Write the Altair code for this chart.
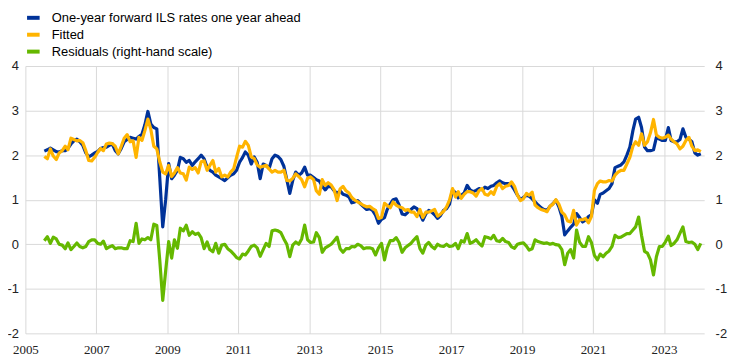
import altair as alt
import pandas as pd

# Monthly observations, July 2005 - January 2024
actual = [
    2.09, 2.12, 2.16, 2.12, 2.08, 2.07,
    2.10, 2.10, 2.15, 2.25, 2.32, 2.36, 2.30, 2.22, 2.05, 1.96, 2.00, 2.05,
    2.08, 2.15, 2.17, 2.18, 2.22, 2.25, 2.10, 2.03, 2.15, 2.30, 2.35, 2.40,
    2.38, 2.36, 2.42, 2.47, 2.68, 2.98, 2.70, 2.62, 2.59, 1.50, 0.39, 1.00,
    1.81, 1.47, 1.55, 1.66, 1.95, 1.92, 1.84, 1.88, 1.77, 1.85, 1.92, 2.00,
    1.92, 1.73, 1.66, 1.62, 1.55, 1.51, 1.47, 1.43, 1.49, 1.55, 1.58, 1.66,
    1.84, 1.95, 2.07, 2.00, 1.80, 1.96, 1.84, 1.47, 1.80, 1.77, 1.70, 1.92,
    2.00, 1.97, 1.90, 1.75, 1.45, 1.14, 1.43, 1.62, 1.55, 1.60, 1.73, 1.55,
    1.55, 1.50, 1.45, 1.42, 1.30, 1.22, 1.30, 1.29, 1.20, 1.14, 1.20, 1.12,
    1.10, 1.06, 0.93, 0.95, 0.98, 0.90, 0.84, 0.78, 0.80, 0.76, 0.65, 0.47,
    0.56, 0.60, 0.78, 0.90, 1.00, 1.02, 0.88, 0.68, 0.66, 0.72, 0.78, 0.84,
    0.80, 0.68, 0.54, 0.68, 0.76, 0.72, 0.66, 0.58, 0.65, 0.76, 0.80, 0.90,
    1.21, 1.16, 1.04, 1.10, 1.15, 1.32, 1.22, 1.18, 1.21, 1.25, 1.22, 1.28,
    1.25, 1.30, 1.32, 1.38, 1.42, 1.38, 1.36, 1.36, 1.32, 1.22, 1.10, 1.00,
    1.05, 1.10, 1.08, 1.02, 0.95, 0.88, 0.82, 0.78, 0.76, 0.85, 0.91, 0.99,
    0.84, 0.62, 0.21, 0.30, 0.38, 0.45, 0.69, 0.60, 0.50, 0.54, 0.62, 0.66,
    1.00, 0.92, 1.12, 1.15, 1.20, 1.25, 1.36, 1.72, 1.75, 1.78, 1.85, 2.00,
    2.18, 2.55, 2.81, 2.85, 2.62, 2.18, 2.10, 2.10, 2.12, 2.40, 2.36, 2.33,
    2.33, 2.62, 2.33, 2.30, 2.30, 2.35, 2.59, 2.40, 2.36, 2.30, 2.05, 2.00,
    2.03,
]

fitted = [
    1.97, 1.92, 2.14, 1.98, 1.90, 2.05,
    2.10, 2.20, 2.12, 2.38, 2.35, 2.32, 2.33, 2.28, 2.10, 1.88, 1.87, 1.95,
    2.06, 2.15, 2.10, 2.25, 2.27, 2.26, 2.20, 2.03, 2.20, 2.38, 2.46, 2.30,
    2.32, 1.95, 2.40, 2.33, 2.55, 2.81, 2.58, 2.20, 2.14, 1.85, 1.62, 1.58,
    1.77, 1.52, 1.60, 1.72, 1.60, 1.58, 1.44, 1.73, 1.68, 1.72, 1.60, 1.85,
    1.87, 1.66, 1.77, 1.88, 1.62, 1.70, 1.51, 1.55, 1.51, 1.62, 1.69, 1.95,
    2.20, 2.18, 2.31, 2.22, 1.96, 1.92, 1.78, 1.73, 1.75, 1.77, 1.69, 1.62,
    1.66, 1.62, 1.62, 1.66, 1.43, 1.42, 1.48, 1.58, 1.52, 1.45, 1.29, 1.48,
    1.51, 1.45, 1.20, 1.12, 1.45, 1.32, 1.38, 1.33, 1.22, 0.98, 1.24, 1.30,
    1.20, 1.15, 1.05, 0.99, 0.95, 0.91, 0.87, 0.84, 0.85, 0.80, 0.76, 0.58,
    0.60, 0.92, 0.87, 0.82, 0.95, 0.88, 0.84, 0.82, 0.76, 0.78, 0.72, 0.72,
    0.62, 0.78, 0.60, 0.72, 0.72, 0.75, 0.78, 0.63, 0.68, 0.74, 0.84, 0.99,
    1.25, 1.06, 1.18, 1.03, 1.12, 1.18, 1.18, 1.15, 1.08, 1.20, 1.25, 1.12,
    1.10, 1.18, 1.12, 1.30, 1.36, 1.25, 1.30, 1.32, 1.40, 1.30, 1.10, 0.98,
    1.02, 1.14, 1.10, 1.17, 0.88, 0.82, 0.78, 0.76, 0.73, 0.85, 0.90, 1.00,
    0.90, 0.72, 0.66, 0.52, 0.50, 0.76, 0.43, 0.55, 0.55, 0.58, 0.48, 0.62,
    1.21, 1.36, 1.42, 1.40, 1.40, 1.43, 1.42, 1.55, 1.62, 1.66, 1.66, 1.80,
    1.95, 2.20, 2.30, 2.22, 2.48, 2.22, 2.30, 2.50, 2.80, 2.45, 2.40, 2.38,
    2.40, 2.45, 2.36, 2.30, 2.25, 2.14, 2.20, 2.33, 2.40, 2.20, 2.10, 2.12,
    2.08,
]

residuals = [
    0.08, 0.17, 0.02, 0.16, 0.12, 0.00,
    -0.02, -0.10, 0.03, -0.12, -0.05, 0.03, -0.05, -0.08, -0.05, 0.06, 0.10, 0.10,
    0.02, 0.00, 0.07, -0.10, -0.06, -0.03, -0.10, -0.08, -0.08, -0.10, -0.10, 0.08,
    0.06, 0.47, 0.02, 0.12, 0.10, 0.15, 0.10, 0.45, 0.42, -0.35, -1.26, -0.60,
    0.06, -0.31, 0.10, -0.09, 0.36, 0.30, 0.43, 0.20, 0.28, 0.22, 0.25, 0.15,
    -0.10, 0.05, -0.12, -0.17, 0.02, -0.20, -0.02, 0.00, -0.10, -0.15, -0.22, -0.30,
    -0.33, -0.22, -0.24, -0.15, -0.05, -0.02, -0.08, -0.27, -0.12, 0.02, -0.05, 0.30,
    0.32, 0.30, 0.26, 0.12, 0.00, -0.28, -0.02, 0.05, 0.00, 0.12, 0.43, 0.10,
    0.04, 0.05, 0.26, 0.15, -0.18, -0.08, -0.04, 0.00, 0.08, 0.16, -0.10, -0.18,
    -0.10, -0.10, -0.05, -0.06, 0.00, -0.03, -0.10, -0.08, -0.08, -0.10, -0.24, -0.08,
    0.02, -0.35, -0.08, 0.08, 0.08, 0.15, 0.04, -0.18, -0.08, -0.03, 0.02, 0.10,
    0.17, -0.10, -0.20, -0.02, 0.04, -0.05, -0.10, 0.00, -0.04, -0.05, 0.00, -0.05,
    -0.04, 0.02, -0.10, 0.08, 0.05, 0.24, 0.02, 0.05, 0.10, 0.02, -0.04, 0.17,
    0.15, 0.12, 0.20, 0.08, 0.06, 0.13, 0.06, 0.04, -0.06, -0.09, 0.00, 0.02,
    0.03, -0.04, -0.13, -0.10, 0.10, 0.06, 0.04, 0.02, 0.03, 0.00, 0.02, -0.01,
    -0.02, -0.12, -0.46, -0.20, -0.12, -0.31, 0.32, 0.05, -0.05, -0.05, 0.17, 0.04,
    -0.25, -0.35, -0.22, -0.28, -0.20, -0.15, -0.05, 0.20, 0.15, 0.16, 0.20, 0.24,
    0.24, 0.32, 0.39, 0.61, 0.20, -0.16, -0.20, -0.35, -0.69, -0.28, -0.05, -0.05,
    0.05, 0.18, -0.03, 0.02, 0.10, 0.25, 0.39, 0.06, 0.04, 0.05, 0.00, -0.12,
    0.02,
]

series_names = [
    "One-year forward ILS rates one year ahead",
    "Fitted",
    "Residuals (right-hand scale)",
]
series_colors = ["#003299", "#FFB400", "#65B800"]
year_ticks = [2005, 2007, 2009, 2011, 2013, 2015, 2017, 2019, 2021, 2023]
y_ticks = [-2, -1, 0, 1, 2, 3, 4]

dates = (pd.date_range("2005-07-01", periods=len(actual), freq="MS")
         + pd.Timedelta(days=14)).strftime("%Y-%m-%d")


def frame(values, name):
    return pd.DataFrame({"date": list(dates), "value": values, "series": name})


FONT = "Liberation Sans"
LABEL_COLOR = "#222222"
GRID = "#d9d9d9"

color = alt.Color(
    "series:N",
    scale=alt.Scale(domain=series_names, range=series_colors),
    legend=alt.Legend(
        title=None, orient="none", legendX=-0.5, legendY=-57,
        direction="vertical", symbolType="stroke", symbolStrokeWidth=4,
        symbolSize=160, labelFont=FONT, labelFontSize=13, labelColor="#000000",
        labelOffset=10, rowPadding=0, padding=0, labelLimit=0,
    ),
)

x = alt.X(
    "date:T",
    title=None,
    scale=alt.Scale(domain=[alt.DateTime(year=2005, month=1, date=1),
                            alt.DateTime(year=2024, month=2, date=19)]),
    axis=alt.Axis(
        values=[alt.DateTime(year=y, month=1, date=1) for y in year_ticks],
        format="%Y", grid=True, gridColor=GRID, domain=False, ticks=False,
        labelFont="Liberation Sans Narrow", labelFontSize=13,
        labelColor=LABEL_COLOR, labelPadding=10, labelAngle=0,
        labelFlush=False, labelOverlap=False,
    ),
)

y_left = alt.Y(
    "value:Q", title=None,
    scale=alt.Scale(domain=[-2, 4], nice=False, zero=False),
    axis=alt.Axis(values=y_ticks, orient="left", grid=True, gridColor=GRID,
                  domain=False, ticks=False, labelFont=FONT, labelFontSize=13,
                  labelColor=LABEL_COLOR, labelPadding=7,
                  labelExpr="'' + datum.value"),
)
y_right = alt.Y(
    "value:Q", title=None,
    scale=alt.Scale(domain=[-2, 4], nice=False, zero=False),
    axis=alt.Axis(values=y_ticks, orient="right", grid=False,
                  domain=False, ticks=False, labelFont=FONT, labelFontSize=13,
                  labelColor=LABEL_COLOR, labelPadding=11,
                  labelExpr="'' + datum.value"),
)

line = dict(strokeWidth=3.2, strokeJoin="round")

blue = alt.Chart(frame(actual, series_names[0])).mark_line(**line).encode(
    x=x, y=y_left, color=color)
orange = alt.Chart(frame(fitted, series_names[1])).mark_line(**line).encode(
    x=x, y=y_left, color=color)
green = alt.Chart(frame(residuals, series_names[2])).mark_line(**line).encode(
    x=x, y=y_right, color=color)

chart = (
    alt.layer(alt.layer(blue, orange), green)
    .resolve_scale(y="independent")
    .properties(
        width=683, height=269,
        autosize=alt.AutoSizeParams(type="none"),
        padding={"left": 17.5, "top": 57.3, "right": 30, "bottom": 23},
        background="white",
    )
    .configure_view(stroke=None)
)

chart.save("out.html", embed_options={"renderer": "svg", "actions": False})
